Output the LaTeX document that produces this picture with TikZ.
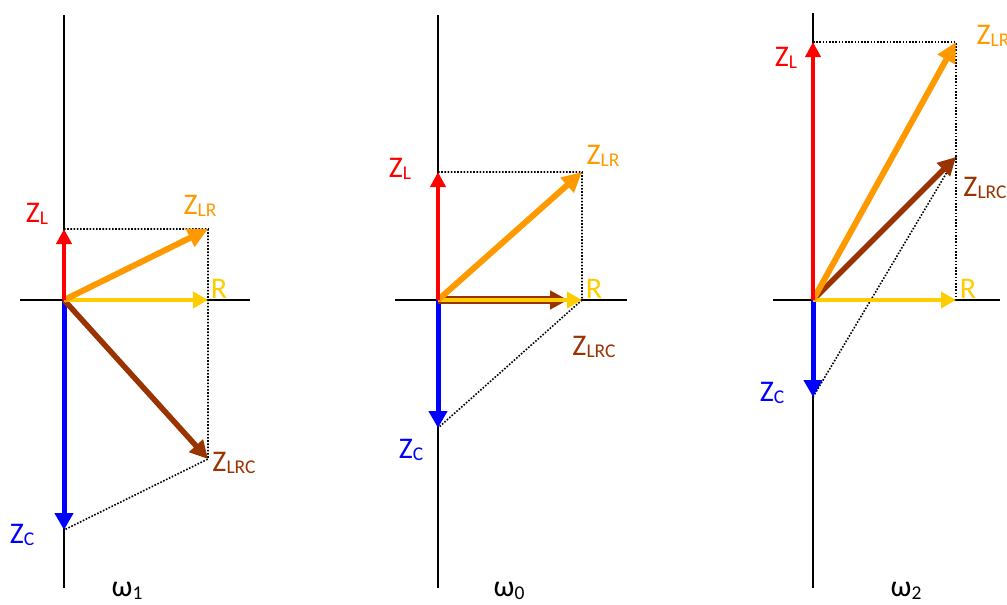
\documentclass[tikz,border=0pt]{standalone}
\usepackage{fontspec}
\setmainfont{Carlito}
\usetikzlibrary{arrows.meta}

\definecolor{zlcol}{HTML}{FF0000}
\definecolor{zccol}{HTML}{0000FF}
\definecolor{rcol}{HTML}{FFCC00}
\definecolor{zlrcol}{HTML}{FF9900}
\definecolor{zlrccol}{HTML}{993300}

\newcommand\phsub[1]{\raisebox{-2.5pt}{\fontsize{19.5}{22}\selectfont #1}}

\begin{document}
\begin{tikzpicture}[x=1pt,y=-1pt]
\tikzset{
  axisline/.style={draw=black,line width=1.6pt},
  guide/.style={draw=black,line width=1.6pt,dash pattern=on 1.6pt off 1.6pt},
  phasorL/.style={draw=zlcol,fill=zlcol,line width=4pt,-{Triangle[length=15pt,width=15pt]}},
  phasorC/.style={draw=zccol,fill=zccol,line width=5pt,-{Triangle[length=17pt,width=18pt]}},
  phasorR/.style={draw=rcol,fill=rcol,line width=4pt,-{Triangle[length=15pt,width=16pt]}},
  phasorLR/.style={draw=zlrcol,fill=zlrcol,line width=6pt,-{Triangle[length=20pt,width=19pt]}},
  phasorLRC/.style={draw=zlrccol,fill=zlrccol,line width=5.5pt,-{Triangle[length=18pt,width=18pt]}},
  phlabel/.style={inner sep=0pt,font=\fontsize{30}{34}\selectfont}
}
\useasboundingbox (0,0) rectangle (1007,605);

% omega_1
\coordinate (o1) at (64,300);
\coordinate (l1) at (64,229);
\coordinate (c1) at (64,530);
\coordinate (r1) at (208,300);
\coordinate (lr1) at (208,229);
\coordinate (lrc1) at (208,459);
\draw[axisline] (64,15) -- (64,588);
\draw[axisline] (20,300) -- (250,300);
\draw[guide] (l1) -- (lr1) -- (lrc1) -- (c1);
\draw[phasorC] (o1) -- (c1);
\draw[phasorLRC] (o1) -- (lrc1);
\draw[phasorR] (o1) -- (r1);
\draw[phasorLR] (o1) -- (lr1);
\draw[phasorL] (o1) -- (l1);
\node[phlabel,text=zlcol] (tl1) at (37,214) {Z\phsub{L}};
\node[phlabel,text=zlrcol] (tlr1) at (200,206) {Z\phsub{LR}};
\node[phlabel,text=rcol] (tr1) at (219,289) {R};
\node[phlabel,text=zlrccol] (tlrc1) at (234,463) {Z\phsub{LRC}};
\node[phlabel,text=zccol] (tc1) at (22,535) {Z\phsub{C}};
\node[phlabel] (w1) at (127,591) {ω\phsub{1}};

% omega_0
\coordinate (o0) at (438,300);
\coordinate (l0) at (438,172);
\coordinate (c0) at (438,428);
\coordinate (r0) at (582,300);
\coordinate (lr0) at (582,172);
\coordinate (lrc0) at (568,300);
\draw[axisline] (438,15) -- (438,588);
\draw[axisline] (395,300) -- (627,300);
\draw[guide] (l0) -- (lr0) -- (r0) -- (c0);
\draw[phasorC] (o0) -- (c0);
\draw[phasorLRC,line width=8pt] (o0) -- (lrc0);
\draw[phasorR] (o0) -- (r0);
\draw[phasorLR] (o0) -- (lr0);
\draw[phasorL] (o0) -- (l0);
\node[phlabel,text=zlcol] (tl0) at (400,169) {Z\phsub{L}};
\node[phlabel,text=zlrcol] (tlr0) at (603,156) {Z\phsub{LR}};
\node[phlabel,text=rcol] (tr0) at (594,289) {R};
\node[phlabel,text=zlrccol] (tlrc0) at (594,347) {Z\phsub{LRC}};
\node[phlabel,text=zccol] (tc0) at (411,450) {Z\phsub{C}};
\node[phlabel] (w0) at (509,591) {ω\phsub{0}};

% omega_2
\coordinate (o2) at (813,300);
\coordinate (l2) at (813,42);
\coordinate (c2) at (813,397);
\coordinate (r2) at (956,300);
\coordinate (lr2) at (956,42);
\coordinate (lrc2) at (956,157);
\draw[axisline] (813,13) -- (813,588);
\draw[axisline] (773,300) -- (1000,300);
\draw[guide] (l2) -- (lr2) -- (r2);
\draw[guide] (c2) -- (lrc2);
\draw[phasorC] (o2) -- (c2);
\draw[phasorLRC] (o2) -- (lrc2);
\draw[phasorR] (o2) -- (r2);
\draw[phasorLR] (o2) -- (lr2);
\draw[phasorL] (o2) -- (l2);
\node[phlabel,text=zlcol] (tl2) at (786,58) {Z\phsub{L}};
\node[phlabel,text=zlrcol] (tlr2) at (993,36) {Z\phsub{LR}};
\node[phlabel,text=rcol] (tr2) at (968,289) {R};
\node[phlabel,text=zlrccol] (tlrc2) at (985,188) {Z\phsub{LRC}};
\node[phlabel,text=zccol] (tc2) at (772,393) {Z\phsub{C}};
\node[phlabel] (w2) at (906,591) {ω\phsub{2}};
\end{tikzpicture}
\end{document}
